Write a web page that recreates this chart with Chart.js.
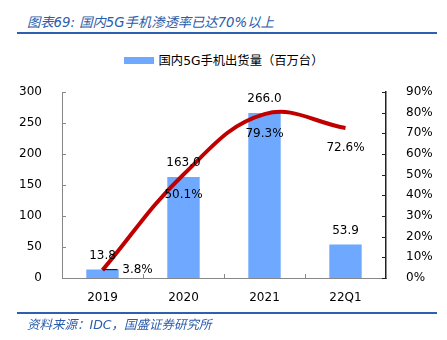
<!DOCTYPE html>
<html>
<head>
<meta charset="utf-8">
<script src="https://cdn.jsdelivr.net/npm/chart.js@4"></script>
<style>
  html, body { margin: 0; padding: 0; background: #fff; }
  #wrap { position: relative; width: 447px; height: 340px; overflow: hidden; }
  #chart { position: absolute; left: 0; top: 0; }
  .caption {
    position: absolute; left: 27px; color: #2a5caa; font-style: italic;
    font-family: 'DejaVu Sans', 'Noto Sans CJK SC', sans-serif; white-space: nowrap;
  }
  #title { top: 12px; font-size: 13.3px; }
  #source { top: 314px; font-size: 12.5px; }
  .rule { position: absolute; left: 17px; width: 420px; height: 2px; background: #2e60b0; }
  #legend {
    position: absolute; top: 53px; left: 0; width: 447px; text-align: center;
    font-family: 'DejaVu Sans', 'Noto Sans CJK SC', sans-serif; font-size: 12.3px; color: #000;
    line-height: 16px; white-space: nowrap;
  }
  #legend .box {
    display: inline-block; width: 30px; height: 7px; background: #6fa8ff;
    vertical-align: middle; margin-right: 5px; position: relative; top: -1px;
  }
</style>
</head>
<body>
<div id="wrap">
  <div id="title" class="caption">图表69: 国内5G手机渗透率已达70%以上</div>
  <div class="rule" style="top:32px"></div>
  <div id="legend"></div>
  <canvas id="chart" width="447" height="340"></canvas>
  <div class="rule" style="top:312px"></div>
  <div id="source" class="caption">资料来源：IDC，国盛证券研究所</div>
</div>
<script>
// data
let categories = ['2019', '2020', '2021', '22Q1']
let shipments = [13.8, 163.0, 266.0, 53.9]       // 百万台
let penetration = [0.038, 0.501, 0.793, 0.726]    // 渗透率

let barLabel = '国内5G手机出货量（百万台）'
let lineLabel = '渗透率'

const FONT = "'DejaVu Sans', 'Noto Sans CJK SC', sans-serif"

// legend only shows the bar series, like the original
document.getElementById('legend').innerHTML = '<span class="box"></span>' + barLabel

// value labels + inward tick marks, drawn after the datasets
const valueLabels = {
  id: 'valueLabels',
  afterDatasetsDraw(chart) {
    const ctx = chart.ctx
    const area = chart.chartArea
    ctx.save()

    // small tick marks pointing into the plot
    ctx.lineWidth = 1
    ctx.strokeStyle = '#888'
    chart.scales.y.ticks.forEach(function(t) {
      let y = Math.round(chart.scales.y.getPixelForValue(t.value)) + 0.5
      ctx.beginPath(); ctx.moveTo(area.left, y); ctx.lineTo(area.left + 4, y); ctx.stroke()
    })
    ctx.strokeStyle = '#222'
    chart.scales.y1.ticks.forEach(function(t) {
      let y = Math.round(chart.scales.y1.getPixelForValue(t.value)) + 0.5
      ctx.beginPath(); ctx.moveTo(area.right - 4, y); ctx.lineTo(area.right, y); ctx.stroke()
    })
    ctx.strokeStyle = '#888'
    let step = (area.right - area.left) / categories.length
    for (let i = 1; i < categories.length; i++) {
      let x = Math.round(area.left + step * i) + 0.5
      ctx.beginPath(); ctx.moveTo(x, area.bottom - 4); ctx.lineTo(x, area.bottom); ctx.stroke()
    }

    ctx.font = '12px ' + FONT
    ctx.fillStyle = '#000'
    ctx.textAlign = 'center'
    ctx.textBaseline = 'middle'

    // bar values above the bars
    chart.getDatasetMeta(0).data.forEach(function(bar, i) {
      ctx.fillText(shipments[i].toFixed(1), bar.x, bar.y - 14)
    })

    // penetration values under the line, first one to the right
    chart.getDatasetMeta(1).data.forEach(function(pt, i) {
      let text = (penetration[i] * 100).toFixed(1) + '%'
      if (i === 0) {
        ctx.strokeStyle = '#000'
        ctx.beginPath(); ctx.moveTo(pt.x + 1, pt.y - 0.5); ctx.lineTo(pt.x + 15, pt.y - 0.5); ctx.stroke()
        ctx.fillText(text, pt.x + 35, pt.y)
      } else {
        ctx.fillText(text, pt.x, pt.y + 20)
      }
    })
    ctx.restore()
  }
}

var ctx = document.getElementById('chart').getContext('2d')
var myChart = new Chart(ctx, {
  type: 'bar',
  data: {
    labels: categories,
    datasets: [{
      type: 'bar',
      label: barLabel,
      data: shipments,
      yAxisID: 'y',
      backgroundColor: '#6fa8ff',
      borderWidth: 0,
      barPercentage: 0.4,
      categoryPercentage: 1,
      order: 2
    }, {
      type: 'line',
      label: lineLabel,
      data: penetration,
      yAxisID: 'y1',
      borderColor: '#c00000',
      borderWidth: 4,
      pointRadius: 0,
      tension: 0.4,
      fill: false,
      order: 1
    }]
  },
  options: {
    responsive: false,
    animation: false,
    layout: { padding: { top: 92, left: 0, right: 0, bottom: 0 } },
    plugins: {
      legend: { display: false },
      tooltip: { enabled: false }
    },
    scales: {
      x: {
        grid: { display: false },
        border: { display: true, color: '#888', width: 1 },
        ticks: { color: '#000', padding: 5, font: { size: 12, family: FONT } },
        afterFit: function(scale) { scale.height = 62 }
      },
      y: {
        position: 'left',
        min: 0, max: 300,
        grid: { display: false },
        border: { display: true, color: '#888', width: 1 },
        ticks: { stepSize: 50, color: '#000', padding: 12, font: { size: 12, family: FONT } },
        afterFit: function(scale) { scale.width = 62 }
      },
      y1: {
        position: 'right',
        min: 0, max: 0.9,
        grid: { display: false },
        border: { display: true, color: '#222', width: 1.5 },
        ticks: {
          stepSize: 0.1, color: '#000', padding: 12, font: { size: 12, family: FONT },
          callback: function(v) { return Math.round(v * 100) + '%' }
        },
        afterFit: function(scale) { scale.width = 61 }
      }
    }
  },
  plugins: [valueLabels]
})
</script>
</body>
</html>
